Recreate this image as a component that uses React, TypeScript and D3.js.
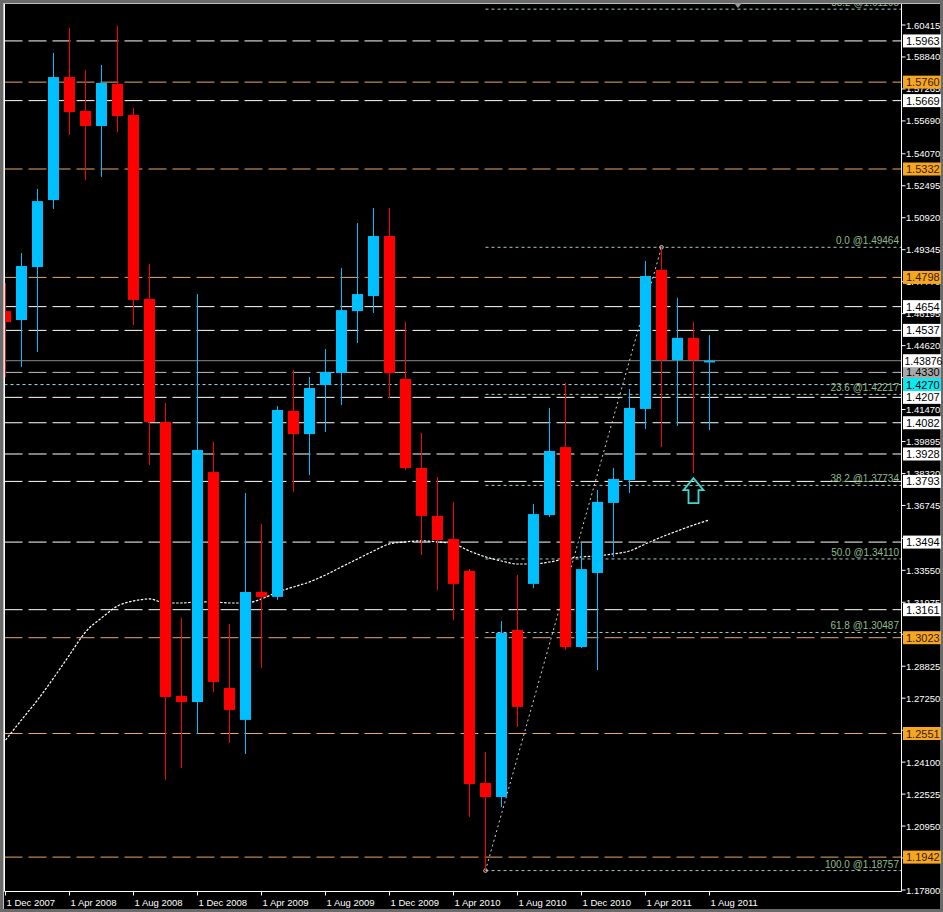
import React from "react";
import * as d3 from "d3";

// Monthly EUR/USD candles, Dec 2007 .. Aug 2011
const opens = [1.4632,1.4588,1.4849,1.5179,1.5785,1.5618,1.5544,1.5751,1.5598,1.4692,1.4086,1.2736,1.2706,1.3839,1.2775,1.2618,1.3248,1.3224,1.4140,1.4026,1.4268,1.4327,1.4632,1.4706,1.5002,1.4298,1.3859,1.3623,1.3509,1.3352,1.2307,1.2238,1.3061,1.3288,1.3627,1.3962,1.2977,1.3342,1.3687,1.3800,1.4150,1.4835,1.4391,1.4500,1.4379];
const highs = [1.4770,1.4918,1.5234,1.5904,1.6027,1.5820,1.5844,1.6037,1.5633,1.4864,1.4179,1.3120,1.4716,1.3987,1.3091,1.3736,1.3583,1.4164,1.4342,1.4307,1.4445,1.4844,1.5066,1.5140,1.5140,1.4578,1.4032,1.3815,1.3692,1.3361,1.2460,1.3105,1.3332,1.3682,1.4155,1.4278,1.3494,1.3751,1.3859,1.4248,1.4879,1.49464,1.4697,1.4578,1.4514];
const lows = [1.4307,1.4357,1.4431,1.5135,1.5500,1.5278,1.5293,1.5514,1.4564,1.3874,1.2322,1.2381,1.2549,1.2756,1.2504,1.2450,1.2874,1.3209,1.3741,1.3824,1.4036,1.4169,1.4475,1.4623,1.4204,1.3849,1.3430,1.3258,1.3110,1.2140,1.18757,1.2189,1.2583,1.3268,1.3618,1.2962,1.2972,1.2864,1.3421,1.3736,1.4051,1.3962,1.4066,1.3834,1.4046];
const closes = [1.4578,1.4854,1.5174,1.5785,1.5613,1.5544,1.5756,1.5593,1.4687,1.4086,1.2731,1.2706,1.3948,1.2805,1.2667,1.3248,1.3224,1.4145,1.4026,1.4253,1.4332,1.4637,1.4716,1.5002,1.4327,1.3859,1.3623,1.3504,1.3288,1.2302,1.2238,1.3046,1.2682,1.3632,1.3943,1.2977,1.3361,1.3692,1.3805,1.4155,1.4805,1.4391,1.4500,1.4391,1.43876];
const maValues = [1.2519,1.2618,1.2716,1.2824,1.2938,1.3051,1.3120,1.3179,1.3204,1.3214,1.3194,1.3194,1.3199,1.3199,1.3194,1.3194,1.3214,1.3248,1.3273,1.3298,1.3332,1.3372,1.3411,1.3450,1.3485,1.3495,1.3500,1.3495,1.3485,1.3450,1.3421,1.3401,1.3386,1.3386,1.3396,1.3411,1.3421,1.3426,1.3436,1.3450,1.3485,1.3519,1.3549,1.3578,1.3603];

const xTickIdx = [0,4,8,12,16,20,24,28,32,36,40,44];
const xTickLabels = ["1 Dec 2007","1 Apr 2008","1 Aug 2008","1 Dec 2008","1 Apr 2009","1 Aug 2009","1 Dec 2009","1 Apr 2010","1 Aug 2010","1 Dec 2010","1 Apr 2011","1 Aug 2011"];

const yTickLabels = ["1.17800","1.19375","1.20950","1.22525","1.24100","1.25675","1.27250","1.28825","1.30400","1.31975","1.33550","1.35125","1.36745","1.38320","1.39895","1.41470","1.43045","1.44620","1.46195","1.47770","1.49345","1.50920","1.52495","1.54070","1.55690","1.57265","1.58840","1.60415"];

const whiteLevels = [1.5963,1.5669,1.4654,1.4537,1.4207,1.4082,1.3928,1.3793,1.3494,1.3161];
const orangeLevels = [1.5760,1.5332,1.4798,1.3023,1.2551,1.1942];
const grayLevels = [1.4330];
const cyanLevels = [1.4270];
const currentPrice = 1.43876;

const fibRatios = ["-38.2","0.0","23.6","38.2","50.0","61.8","100.0"];
const fibPrices = [1.61195,1.49464,1.42217,1.37734,1.34110,1.30487,1.18757];
const fibStartIdx = 30;
const fibEndIdx = 41;
const arrowIdx = 43;

const FONT = "'Liberation Sans', Arial, sans-serif";

export default function App() {
  const x = d3.scaleLinear().domain([0, 44]).range([5.5, 709.5]);
  const y = d3.scaleLinear().domain([1.178, 1.60415]).range([890, 25]);
  const plotL = 4.5, plotR = 901.5, plotB = 891.5;
  const bodyW = 11;
  const up = "#00BFFF", down = "#FF0000";
  const orange = "#F5A623";
  const orangeLine = "#E8A868";
  const fibColor = "#8FBC8F";
  const fibLine = "#A8CCC4";

  const maLine = d3.line<number>().x((_, i) => x(i)).y((d) => y(d)).curve(d3.curveMonotoneX)(maValues) || "";

  const yTickVals = yTickLabels.map((s) => parseFloat(s));
  const boxed = [...whiteLevels, ...orangeLevels, ...grayLevels, ...cyanLevels, currentPrice];
  const hidden = (v: number) => boxed.some((b) => Math.abs(y(b) - y(v)) < 4);

  const boxLabel = (v: number, fill: string, text: string, key: string, color = "#000") => (
    <g key={key}>
      <rect x={903} y={y(v) - 6.5} width={38} height={13} fill={fill} />
      <text x={906} y={y(v) + 4} fontSize={11} fill={color} fontFamily={FONT}>{text}</text>
    </g>
  );

  const ax = x(arrowIdx);
  const ay = y(lows[arrowIdx]) + 5;
  const arrowPath = `M${ax},${ay} L${ax - 10},${ay + 12} L${ax - 5},${ay + 12} L${ax - 5},${ay + 25} L${ax + 5},${ay + 25} L${ax + 5},${ay + 12} L${ax + 10},${ay + 12} Z`;

  return (
    <svg width={943} height={912} style={{ position: "fixed", left: 0, top: 0, display: "block" }} fontFamily={FONT}>
      <rect x={0} y={0} width={943} height={912} fill="#000" />
      <defs>
        <clipPath id="plot">
          <rect x={5} y={4} width={896.5} height={887} />
        </clipPath>
      </defs>

      <g clipPath="url(#plot)">
        {whiteLevels.map((v, i) => (
          <line key={"w" + i} x1={plotL} x2={plotR} y1={y(v)} y2={y(v)} stroke="#ffffff" strokeWidth={1} strokeDasharray="18 6" />
        ))}
        {orangeLevels.map((v, i) => (
          <line key={"o" + i} x1={plotL} x2={plotR} y1={y(v)} y2={y(v)} stroke={orangeLine} strokeWidth={1} strokeDasharray="18 6" />
        ))}
        {grayLevels.map((v, i) => (
          <line key={"g" + i} x1={plotL} x2={plotR} y1={y(v)} y2={y(v)} stroke="#c0c0c0" strokeWidth={1} strokeDasharray="18 6" />
        ))}
        {cyanLevels.map((v, i) => (
          <line key={"c" + i} x1={plotL} x2={plotR} y1={y(v)} y2={y(v)} stroke="#9fe0ee" strokeWidth={1} strokeDasharray="3 3" />
        ))}
        <line x1={plotL} x2={plotR} y1={y(currentPrice)} y2={y(currentPrice)} stroke="#8a8a8a" strokeWidth={1} />

        {fibPrices.map((v, i) => (
          <line key={"f" + i} x1={x(fibStartIdx)} x2={plotR} y1={y(v)} y2={y(v)} stroke={fibLine} strokeWidth={1} strokeDasharray="3 3" />
        ))}
        <line x1={x(fibStartIdx)} y1={y(lows[fibStartIdx])} x2={x(fibEndIdx)} y2={y(highs[fibEndIdx])} stroke="#cfcfcf" strokeWidth={1} strokeDasharray="2 3" />
        <circle cx={x(fibStartIdx)} cy={y(lows[fibStartIdx])} r={1.8} fill="none" stroke="#d0d0d0" strokeWidth={1} />
        <circle cx={x(fibEndIdx)} cy={y(highs[fibEndIdx])} r={1.8} fill="none" stroke="#d0d0d0" strokeWidth={1} />

        <path d={maLine} fill="none" stroke="#ffffff" strokeWidth={1.2} strokeDasharray="2.5 1.5" />

        {opens.map((o, i) => {
          const c = closes[i];
          const col = c >= o ? up : down;
          const top = y(Math.max(o, c));
          const bot = y(Math.min(o, c));
          const cx = x(i);
          return (
            <g key={"k" + i}>
              <line x1={cx} x2={cx} y1={y(highs[i])} y2={y(lows[i])} stroke={col} strokeWidth={1} />
              <rect x={cx - bodyW / 2} y={top} width={bodyW} height={Math.max(1.5, bot - top)} fill={col} />
            </g>
          );
        })}

        <path d={arrowPath} fill="none" stroke="#3fd8d0" strokeWidth={1.8} />
      </g>

      {/* fibonacci labels (top one runs off the top edge as in the terminal) */}
      {fibPrices.map((v, i) => (
        <text key={"ft" + i} x={899} y={y(v) - 3} fontSize={10} fill={fibColor} textAnchor="end">{fibRatios[i]} @{v.toFixed(5)}</text>
      ))}

      {/* window border */}
      <rect x={0} y={0} width={943} height={3} fill="#6a6a6a" />
      <rect x={0} y={0} width={3} height={912} fill="#6a6a6a" />
      <rect x={940} y={0} width={3} height={912} fill="#6a6a6a" />
      <rect x={0} y={909} width={943} height={3} fill="#6a6a6a" />
      <line x1={3} x2={940} y1={3.5} y2={3.5} stroke="#bdbdbd" strokeWidth={1} />
      <line x1={3.5} x2={3.5} y1={3} y2={909} stroke="#bdbdbd" strokeWidth={1} />

      <path d="M734,3 L742,3 L738,8 Z" fill="#9a9a9a" />

      <line x1={plotL} x2={plotL} y1={4} y2={plotB} stroke="#ffffff" strokeWidth={1} />
      <line x1={plotR} x2={plotR} y1={4} y2={plotB} stroke="#ffffff" strokeWidth={1} />
      <line x1={plotL} x2={plotR} y1={plotB} y2={plotB} stroke="#ffffff" strokeWidth={1} />

      {yTickVals.map((v, i) => (
        <g key={"yt" + i}>
          <line x1={plotR} x2={plotR + 4} y1={y(v)} y2={y(v)} stroke="#ffffff" />
          {!hidden(v) && (
            <text x={906} y={y(v) + 3.5} fontSize={9.5} fill="#ffffff">{yTickLabels[i]}</text>
          )}
        </g>
      ))}

      {whiteLevels.map((v, i) => boxLabel(v, "#ffffff", v.toFixed(4), "wl" + i))}
      {orangeLevels.map((v, i) => boxLabel(v, orange, v.toFixed(4), "ol" + i, "#3a1a00"))}
      {grayLevels.map((v, i) => boxLabel(v, "#a8a8a8", v.toFixed(4), "gl" + i))}
      {cyanLevels.map((v, i) => boxLabel(v, "#10e8f0", v.toFixed(4), "cl" + i))}
      <g>
        <rect x={903} y={y(currentPrice) - 6.5} width={38} height={13} fill="#ffffff" />
        <text x={904.5} y={y(currentPrice) + 4} fontSize={10.5} fill="#000" fontFamily={FONT}>{currentPrice.toFixed(5)}</text>
      </g>

      {xTickIdx.map((k, i) => (
        <g key={"xt" + i}>
          <line x1={x(k)} x2={x(k)} y1={plotB} y2={plotB + 4} stroke="#ffffff" />
          <text x={x(k) + 1} y={906} fontSize={9.5} fill="#ffffff">{xTickLabels[i]}</text>
        </g>
      ))}
    </svg>
  );
}
